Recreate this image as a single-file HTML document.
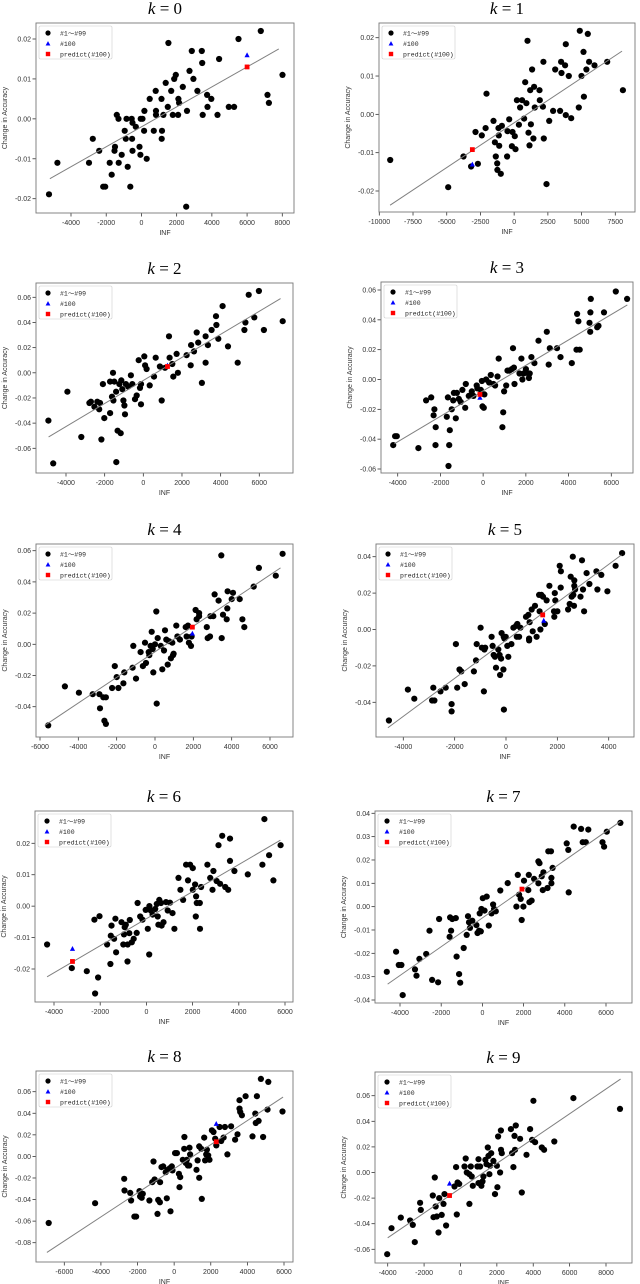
<!DOCTYPE html>
<html><head><meta charset="utf-8"><style>
html,body{margin:0;padding:0;background:#fff;}
svg{display:block;font-family:"Liberation Sans","Noto Sans CJK JP",sans-serif;}
</style></head><body>
<svg id="fig" width="640" height="1284" viewBox="0 0 640 1284" xmlns="http://www.w3.org/2000/svg"></svg>
<script>
const inf0=[-5250,-4770,-2760,-2400,-2980,-2060,-2170,-1690,-1800,-1500,-1530,-1400,-1300,-1120,-1290,-950,-890,-850,-780,-630,-550,-510,-530,-510,-320,-110,-60,-40,60,150,170,300,470,700,810,830,830,1150,1170,1140,1250,1380,1500,1530,1690,1780,1860,1950,2100,2140,2080,2350,2540,2590,2730,2860,2950,3180,3430,3450,3480,3750,3730,3970,4320,4410,4960,5260,5510,6780,7160,7240,8010];
const acc0=[-0.0189,-0.011,-0.005,-0.008,-0.011,-0.017,-0.017,-0.014,-0.011,-0.007,-0.008,0.001,0,-0.009,-0.011,-0.003,-0.005,0,-0.012,-0.017,0,-0.001,-0.005,-0.008,-0.002,-0.007,-0.009,0,0,-0.003,0.002,-0.010,0.005,-0.003,0.007,0.002,0.001,-0.005,-0.003,0.005,0.001,0.009,0.003,0.019,0.007,0.001,0.010,0.011,0.005,0.004,0.001,0.008,-0.022,0.002,0.012,0.017,0.010,0.007,0.017,0.014,0.001,0.003,0.006,0.005,0.001,0.015,0.003,0.003,0.020,0.022,0.006,0.004,0.011];
const inf1=[-9190,-4890,-3760,-3190,-2690,-2870,-2400,-2120,-2050,-1530,-1430,-1360,-1260,-1240,-1160,-1140,-1110,-990,-910,-490,-520,-370,-170,-120,50,100,200,350,440,590,740,820,910,990,1060,1140,1190,1240,1330,1430,1480,1530,1880,1900,2130,2170,2200,2400,2600,2890,3040,3410,3480,3510,3780,3830,3830,4050,4230,4790,4870,4990,5140,5170,5360,5460,5560,5960,6900,8060];
const acc1=[-0.0119,-0.019,-0.011,-0.0136,-0.0129,-0.0046,-0.0055,-0.0036,0.0054,-0.0017,-0.0073,-0.011,-0.0128,-0.0145,-0.0036,-0.0055,-0.0082,-0.0155,-0.003,-0.0044,-0.011,-0.0013,-0.0083,-0.0046,-0.0057,-0.0091,0.0037,-0.0027,0.0018,0.0037,-0.0011,0.0084,0.0029,0.0192,-0.0048,-0.0081,0.0063,-0.0026,0.0117,-0.0063,0.0072,0.0018,0.0063,0.0037,0.002,0.0137,-0.0063,-0.0182,-0.0017,0.0009,0.0117,0.0009,0.0137,0.0108,0.0128,0.0183,-0.0002,0.01,-0.001,0.0018,0.0218,0.01,0.0163,0.0046,0.0117,0.021,0.0137,0.0128,0.0137,0.0063];
const inf2=[-4910,-4660,-3930,-3210,-2790,-2710,-2530,-2380,-2280,-2240,-2170,-2090,-2020,-1720,-1720,-1620,-1570,-1550,-1500,-1410,-1400,-1330,-1240,-1170,-1140,-1090,-1030,-980,-950,-900,-780,-640,-570,-430,-340,-240,-170,-120,-120,50,90,170,330,550,640,860,950,1120,1330,1360,1500,1550,1720,1790,2240,2450,2470,2620,2760,2840,3030,3220,3220,3340,3530,3760,3780,3880,4100,4380,4880,5230,5280,5450,5740,5980,6240,7210];
const acc2=[-0.038,-0.072,-0.015,-0.051,-0.024,-0.023,-0.027,-0.023,-0.029,-0.024,-0.053,-0.009,-0.036,-0.007,-0.032,-0.019,0,-0.022,-0.007,-0.015,-0.071,-0.046,-0.009,-0.048,-0.006,-0.013,-0.022,-0.026,-0.033,-0.009,-0.011,-0.002,-0.009,-0.021,-0.018,0.010,-0.012,-0.025,-0.009,0.013,0.006,0.003,-0.010,-0.003,0.012,0.005,-0.022,0.004,0.029,0.012,0.007,-0.003,0.015,0,0.014,0.006,0.022,0.017,0.032,0.024,-0.008,0.008,0.029,0.022,0.034,0.045,0.038,0.027,0.053,0.021,0.008,0.034,0.040,0.062,0.044,0.065,0.034,0.041];
const inf3=[-4210,-4120,-4040,-3030,-2670,-2430,-2320,-2280,-2220,-2230,-1700,-1650,-1620,-1590,-1560,-1470,-1400,-1370,-1280,-1230,-1140,-1050,-970,-840,-810,-670,-530,-450,-300,-270,-110,-60,-30,30,60,140,280,360,480,560,670,730,900,940,980,1080,1140,1230,1340,1400,1440,1470,1700,1790,1840,1900,2000,2120,2140,2180,2260,2400,2590,2980,3070,3120,3460,3620,4150,4370,4400,4460,4520,4980,5010,5020,5040,5340,5400,5660,6210,6740];
const acc3=[-0.044,-0.038,-0.038,-0.046,-0.014,-0.012,-0.024,-0.020,-0.032,-0.044,-0.025,-0.012,-0.058,-0.044,-0.034,-0.020,-0.014,-0.009,-0.026,-0.009,-0.013,-0.015,-0.007,-0.019,-0.003,-0.011,-0.008,-0.011,-0.004,-0.006,-0.007,-0.001,-0.018,-0.019,-0.010,0,-0.002,0.003,-0.003,-0.004,0.002,0.014,-0.032,-0.022,-0.008,-0.004,0.006,0.006,0.007,0.021,0.008,-0.003,0.004,0.014,0,0.004,0.007,0.004,0.001,0.004,0.015,0.011,0.026,0.032,0.010,0.021,0.021,0.015,0.011,0.020,0.044,0.039,0.020,0.038,0.032,0.045,0.054,0.035,0.036,0.045,0.059,0.054];
const inf4=[-5570,-4700,-3970,-3250,-2900,-2870,-2700,-2640,-2560,-2560,-2240,-2100,-2000,-1910,-1650,-1600,-1170,-1130,-990,-750,-630,-520,-470,-330,-300,-230,-170,-120,-90,0,70,90,140,300,380,470,520,590,660,730,830,900,940,970,1110,1170,1300,1600,1650,1720,1770,1880,1910,2120,2170,2300,2300,2700,2750,2870,2890,3040,3110,3320,3460,3480,3550,3740,3770,3790,4000,4070,4420,4560,4660,5150,5420,6300,6660];
const acc4=[-0.052,-0.027,-0.031,-0.032,-0.032,-0.041,-0.034,-0.049,-0.051,-0.034,-0.028,-0.014,-0.021,-0.028,-0.025,-0.018,-0.015,-0.001,-0.022,-0.005,-0.014,0.001,-0.012,-0.005,-0.007,-0.001,0.008,-0.003,-0.018,0,0.021,-0.038,0.004,-0.001,-0.016,-0.004,0.009,0.003,-0.013,0.002,-0.009,0.001,-0.007,-0.006,0.012,0.005,0.003,0.011,0.005,0.012,0.001,-0.001,0.005,0.022,0.016,0.020,0.018,0.011,0.004,0.005,0.018,0.018,0.032,0.028,0.057,0.004,0.019,0.016,0.023,0.034,0.029,0.033,0.029,0.016,0.011,0.037,0.049,0.044,0.058];
const inf5=[-4560,-3820,-3570,-2880,-2830,-2790,-2550,-2350,-2120,-2120,-1950,-1900,-1810,-1740,-1610,-1250,-1170,-1140,-990,-940,-840,-860,-810,-560,-520,-480,-430,-390,-300,-250,-230,-190,-170,-100,-90,-80,-60,-10,50,90,210,290,390,420,440,510,560,780,870,900,900,920,1000,1040,1130,1190,1290,1310,1340,1380,1440,1510,1580,1690,1870,1880,1900,1920,2000,2090,2130,2140,2420,2480,2520,2560,2600,2620,2650,2660,2660,2690,2900,2960,3000,3040,3140,3250,3520,3560,3710,3950,4270,4520];
const acc5=[-0.050,-0.033,-0.038,-0.039,-0.032,-0.039,-0.034,-0.032,-0.041,-0.045,-0.008,-0.032,-0.022,-0.023,-0.030,-0.023,-0.017,-0.008,0.001,-0.010,-0.011,-0.034,-0.010,-0.004,-0.009,-0.014,-0.015,-0.021,-0.011,-0.014,-0.025,-0.016,-0.002,-0.022,-0.004,-0.044,-0.005,-0.004,-0.009,-0.015,-0.008,0.001,0.002,-0.004,0.003,-0.004,0.001,0.007,0.008,-0.005,-0.006,0.004,0.011,-0.001,0.013,-0.004,0.019,0.010,0,0.019,0.018,0.003,0.016,0.024,0.010,0.007,0.020,0.016,0.010,0.035,0.023,0.032,0.011,0.014,0.029,0.018,0.040,0.019,0.013,0.027,0.024,0.022,0.018,0.038,0.022,0.010,0.031,0.025,0.032,0.022,0.030,0.021,0.035,0.042];
const inf6=[-4300,-3230,-2580,-2250,-2220,-2090,-2030,-1700,-1540,-1560,-1510,-1400,-1340,-1310,-1080,-1000,-970,-940,-890,-820,-810,-740,-720,-630,-550,-420,-380,-270,-170,-30,60,120,130,190,270,380,450,490,520,560,630,660,740,850,920,1020,1130,1210,1390,1470,1590,1720,1800,1890,2010,2010,2110,2140,2150,2180,2310,2320,2370,2640,2760,2860,2900,3040,3120,3190,3280,3410,3540,3620,3620,3810,4390,5020,5110,5310,5500,5810];
const acc6=[-0.0122,-0.0197,-0.0207,-0.0043,-0.0278,-0.0227,-0.0032,-0.0122,-0.0094,-0.0184,-0.0062,-0.0104,-0.004,-0.0147,-0.0051,-0.0122,-0.009,-0.0067,-0.0059,-0.0176,-0.0122,-0.0086,-0.0044,-0.0115,-0.0104,-0.0085,0.001,-0.0033,-0.0043,-0.0012,-0.0072,-0.0154,0,-0.0014,-0.0027,-0.0009,0.0007,-0.0033,-0.0059,0.002,0.001,-0.0062,-0.0051,0.0013,-0.0014,0.0011,-0.0022,-0.0072,0.009,0.0052,0.002,0.0132,0.0082,0.0132,0.0121,0.0052,0.0069,-0.0033,0.0031,0.001,0.001,-0.0072,0.0061,0.0132,0.009,0.0052,0.0112,0.008,0.0194,0.0071,0.0224,0.0061,0.0052,0.0144,0.0215,0.0112,0.0101,0.0132,0.0277,0.0162,0.0082,0.0194];
const inf7=[-4640,-4190,-4060,-3930,-3870,-3270,-3200,-3060,-2730,-2570,-2440,-2150,-2100,-1590,-1570,-1520,-1460,-1290,-1250,-1130,-1080,-910,-760,-700,-650,-600,-490,-290,-240,-160,-130,-80,-50,20,100,210,310,440,520,570,650,870,1230,1650,1720,1780,1860,1910,1990,2020,2230,2250,2280,2390,2510,2720,2720,2770,2880,2930,2960,3160,3200,3330,3350,3350,3410,4090,4170,4190,4430,4790,4870,5020,5140,5830,5910,6040,6700];
const acc7=[-0.0279,-0.0193,-0.025,-0.025,-0.0379,-0.0269,-0.0296,-0.0224,-0.0203,-0.0103,-0.0314,-0.0324,-0.0053,-0.0129,-0.0046,-0.0103,-0.0053,-0.0049,-0.0214,-0.0289,-0.0326,-0.0177,-0.0121,-0.0041,-0.0067,-0.0091,-0.006,-0.0079,-0.0113,-0.0103,-0.0029,-0.0106,-0.001,0.0036,-0.0017,0.0043,-0.0081,-0.0029,0.0009,-0.001,-0.002,0.0069,0.0101,0,0.0136,0.0051,0.0033,-0.0057,0,0.0111,0.0071,0.0136,0.0019,0.0026,0.0119,0.01,0.0194,0.0186,0.013,0.0071,0.0147,0.008,0.0237,0.0237,0.0123,0.01,0.0166,0.0271,0.0243,0.0061,0.0343,0.0333,0.0276,0.0276,0.033,0.0276,0.0257,0.0321,0.0359];
const inf8=[-6850,-4320,-2730,-2710,-2400,-2350,-2170,-2080,-1890,-1860,-1770,-1710,-1350,-1200,-1130,-1070,-910,-870,-780,-770,-690,-600,-460,-400,-350,-240,-200,-130,-90,50,150,260,290,330,470,550,560,640,690,750,820,840,870,1220,1280,1370,1370,1480,1510,1640,1690,1750,1790,1860,1930,2060,2150,2240,2300,2480,2570,2700,2770,2910,3110,3330,3460,3570,3570,3610,3700,3900,4280,4430,4460,4520,4610,4740,4860,5100,5140,5920];
const acc8=[-0.0617,-0.0434,-0.0208,-0.0316,-0.0338,-0.0409,-0.0558,-0.0558,-0.0322,-0.0372,-0.0384,-0.0347,-0.0409,-0.0239,-0.0047,-0.0214,-0.0533,-0.0403,-0.0425,-0.0239,-0.0099,-0.0093,-0.0146,-0.0388,-0.0124,-0.0109,-0.0509,-0.0093,-0.013,0.0031,0.0031,-0.0161,-0.0285,-0.0192,-0.0031,0.0071,0.018,-0.0062,-0.0031,-0.0084,-0.0084,0.0081,0.0019,-0.0124,-0.0037,-0.0198,0.0093,0.0071,-0.0394,0.0174,-0.0037,0.0019,0.0062,0.0009,-0.0031,0.0242,0.0226,0.0164,0.0102,0.0273,0.0143,0.0174,0.0273,0.0019,0.0279,0.0155,0.0205,0.0521,0.0443,0.0412,0.0381,0.0558,0.0186,0.0397,0.031,0.0558,0.0329,0.0719,0.018,0.0434,0.0691,0.0416];
const inf9=[-4030,-3790,-3280,-2770,-2620,-2510,-2220,-2180,-1520,-1480,-1410,-1360,-1300,-1210,-1170,-1030,-930,-880,-790,-330,-240,-200,-160,-70,220,290,350,490,570,490,620,680,930,990,990,1080,1150,1210,1260,1370,1430,1500,1540,1590,1630,1690,1810,1900,2000,2030,2070,2180,2220,2230,2270,2770,2840,2910,2970,3000,3040,3280,3370,3630,3830,3940,4010,4100,4470,4600,5160,6210,8770];
const acc9=[-0.0638,-0.0435,-0.0352,-0.0375,-0.0409,-0.0544,-0.0237,-0.0292,-0.018,-0.0349,-0.0039,-0.0266,-0.0344,-0.0469,-0.02,-0.0331,-0.0245,-0.0169,-0.0414,-0.0109,0.0042,-0.0328,-0.0078,-0.0089,0.0047,0.0109,0,-0.0013,0.0047,-0.0245,-0.0031,-0.0104,0.0047,0.0104,-0.0083,0.0047,-0.0104,-0.007,-0.0031,0.0099,0.0065,0.0195,0.013,-0.0013,0.0052,0.0151,0.0091,-0.0169,0.0052,-0.0115,0.0281,0,0.0328,0.0177,0.0151,0.0339,0.0151,0.0042,0.0286,0.0177,0.0367,0.0263,-0.0156,0.0138,0.0339,0.0255,0.056,0.0237,0.0195,0.0177,0.0242,0.0581,0.0497];
const blueX=[6000,-3100,1250,-150,1950,1470,-3200,1920,2300,-600];
const blueY=[0.016,-0.013,0.006,-0.012,0.007,0.005,-0.0135,0.0075,0.0304,-0.0085];
const redX=[6000,-3100,1250,-150,1950,1430,-3200,1920,2300,-600];
const redY=[0.013,-0.0092,0.005,-0.010,0.011,0.008,-0.0176,0.0075,0.0136,-0.018];
const lineX0=[-5200,-9200,-4900,-4150,-5750,-4600,-4300,-4600,-6950,-4000];
const lineY0=[-0.015,-0.0237,-0.051,-0.043,-0.052,-0.054,-0.0225,-0.0332,-0.089,-0.051];
const lineX1=[7800,8000,7100,6750,6550,4500,5800,6700,5950,8800];
const lineY1=[0.0175,0.0165,0.059,0.050,0.049,0.041,0.021,0.0365,0.055,0.073];
const xTicks=[[-4000,-2000,0,2000,4000,6000,8000],[-10000,-7500,-5000,-2500,0,2500,5000,7500],[-4000,-2000,0,2000,4000,6000],[-4000,-2000,0,2000,4000,6000],[-6000,-4000,-2000,0,2000,4000,6000],[-4000,-2000,0,2000,4000],[-4000,-2000,0,2000,4000,6000],[-4000,-2000,0,2000,4000,6000],[-6000,-4000,-2000,0,2000,4000,6000],[-4000,-2000,0,2000,4000,6000,8000]];
const yTicks=[[-0.02,-0.01,0,0.01,0.02],[-0.02,-0.01,0,0.01,0.02],[-0.06,-0.04,-0.02,0,0.02,0.04,0.06],[-0.06,-0.04,-0.02,0,0.02,0.04,0.06],[-0.04,-0.02,0,0.02,0.04,0.06],[-0.04,-0.02,0,0.02,0.04],[-0.02,-0.01,0,0.01,0.02],[-0.04,-0.03,-0.02,-0.01,0,0.01,0.02,0.03,0.04],[-0.08,-0.06,-0.04,-0.02,0,0.02,0.04,0.06],[-0.06,-0.04,-0.02,0,0.02,0.04,0.06]];
const infs=[inf0,inf1,inf2,inf3,inf4,inf5,inf6,inf7,inf8,inf9];
const accs=[acc0,acc1,acc2,acc3,acc4,acc5,acc6,acc7,acc8,acc9];
const boxes=[[36,23,294,213],[379,23,635,212],[36,283,293,473],[381,282,633,473],[36,544,293,737],[376,544,634,737],[35,811,293,1002],[375,811,632,1003],[36,1071,293,1262],[375,1072,632,1263]];
const xcal=[[-4000,71,8000,282.3],[-10000,379.3,7500,615.3],[-4000,66,6000,259.3],[-4000,397.7,6000,611.3],[-6000,40,6000,270],[-4000,403.3,4000,608.7],[-4000,54,6000,285],[-4000,400,6000,606],[-6000,64.3,6000,284],[-4000,387.7,8000,606]];
const ycal=[[0.02,39,-0.02,198.7],[0.02,37.7,-0.02,191],[0.06,297.3,-0.06,448.3],[0.06,290,-0.06,469],[0.06,550.7,-0.04,706.7],[0.04,556.7,-0.04,702.3],[0.02,843.3,-0.02,969],[0.04,813.3,-0.04,1000],[0.06,1091.7,-0.08,1242.7],[0.06,1095.7,-0.06,1249.3]];

const NS='http://www.w3.org/2000/svg';
const svg=document.getElementById('fig');
function mk(tag,attrs,parent){const e=document.createElementNS(NS,tag);for(const k in attrs)e.setAttribute(k,attrs[k]);(parent||svg).appendChild(e);return e;}
function fmtY(v){return v.toFixed(2).replace('-0.00','0.00');}

for(let p=0;p<10;p++){
  const [l,t,r,b]=boxes[p];
  const xc=xcal[p],yc=ycal[p];
  const sx=v=>xc[1]+(v-xc[0])*(xc[3]-xc[1])/(xc[2]-xc[0]);
  const sy=v=>yc[1]+(v-yc[0])*(yc[3]-yc[1])/(yc[2]-yc[0]);
  const g=mk('g',{});
  
  
  const title=mk('text',{x:(l+r)/2,y:t-9,'text-anchor':'middle','font-family':'"Liberation Serif",serif','font-size':'17'},g);
  
  
  title.innerHTML='<tspan font-style="italic">k</tspan> = '+p;
  xTicks[p].forEach(v=>{
    const x=sx(v);
    const tk=mk('line',{x1:x,x2:x,y1:b,y2:b+3.5,stroke:'#333','stroke-width':0.8},g);
    
    
    const tl=mk('text',{x:x,y:b+12,'text-anchor':'middle','font-size':'7',fill:'#333'},g);
    
    
    tl.textContent=v;
  });
  yTicks[p].forEach(v=>{
    const y=sy(v);
    const tk=mk('line',{x1:l-3.5,x2:l,y1:y,y2:y,stroke:'#333','stroke-width':0.8},g);
    
    
    const tl=mk('text',{x:l-5,y:y+2.5,'text-anchor':'end','font-size':'7',fill:'#333'},g);
    
    
    tl.textContent=fmtY(v);
  });
  const xl=mk('text',{x:(l+r)/2,y:b+22,'text-anchor':'middle','font-size':'7',fill:'#333'},g);
  
  
  xl.textContent='INF';
  const yx=l-29,yy=(t+b)/2;
  const yl=mk('text',{x:yx,y:yy,'text-anchor':'middle','font-size':'7',fill:'#333',transform:'rotate(-90 '+yx+' '+yy+')'},g);
  
  
  yl.textContent='Change in Accuracy';
  const xs=infs[p],ys=accs[p];
  for(let i=0;i<xs.length;i++){
    const c=mk('circle',{cx:sx(xs[i]).toFixed(1),cy:sy(ys[i]).toFixed(1),r:3.1,fill:'#000'},g);
    
    
  }
  const ln=mk('line',{x1:sx(lineX0[p]),y1:sy(lineY0[p]),x2:sx(lineX1[p]),y2:sy(lineY1[p]),stroke:'#808080','stroke-width':1},g);
  
  
  const bx=sx(blueX[p]),by=sy(blueY[p]);
  const tri=mk('polygon',{points:(bx-2.6)+','+(by+2.3)+' '+(bx+2.6)+','+(by+2.3)+' '+bx+','+(by-2.6),fill:'#0000ff'},g);
  
  
  const rx=sx(redX[p]),ry=sy(redY[p]);
  const sq=mk('rect',{x:rx-2.4,y:ry-2.4,width:4.8,height:4.8,fill:'#ff0000'},g);
  
  
  const fr=mk('rect',{x:l,y:t,width:r-l,height:b-t,fill:'none',stroke:'#777','stroke-width':0.9},g);
  
  
  const lg=mk('g',{},g);
  
  
  mk('rect',{x:l+3,y:t+3,width:73,height:33,fill:'#fff',stroke:'#ccc','stroke-width':0.6,rx:1.5},lg);
  const labels=['#1～#99','#100','predict(#100)'];
  for(let k=0;k<3;k++){
    const ey=t+10+k*10.5,ex=l+12;
    if(k===0){mk('circle',{cx:ex,cy:ey,r:2.6,fill:'#000'},lg);}
    else if(k===1){mk('polygon',{points:(ex-2.4)+','+(ey+2)+' '+(ex+2.4)+','+(ey+2)+' '+ex+','+(ey-2.4),fill:'#0000ff'},lg);}
    else{mk('rect',{x:ex-2.2,y:ey-2.2,width:4.4,height:4.4,fill:'#ff0000'},lg);}
    const tx=mk('text',{x:l+24,y:ey+2.5,'font-size':'6.5',fill:'#222','font-family':'"Liberation Mono","Noto Sans CJK JP",monospace'},lg);
    
    
    tx.textContent=labels[k];
  }
}
</script>
</body></html>
